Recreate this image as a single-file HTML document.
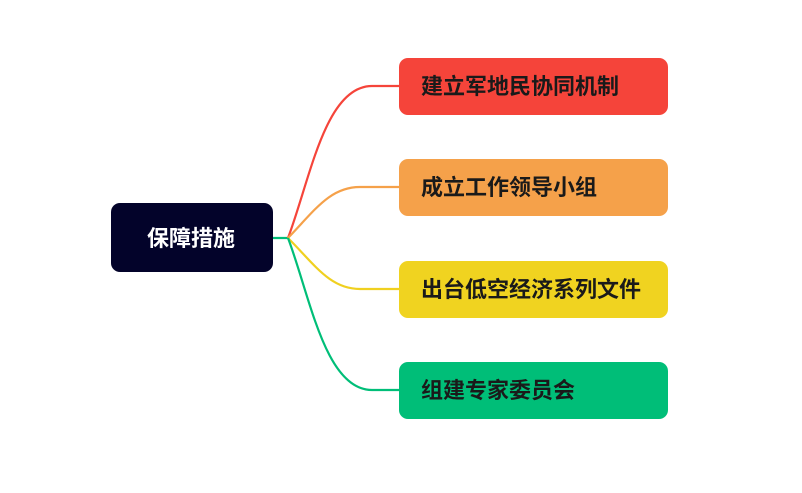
<!DOCTYPE html>
<html><head><meta charset="utf-8"><style>
body{margin:0;width:802px;height:493px;background:#fff;position:relative;overflow:hidden;font-family:"Liberation Sans","Noto Sans CJK SC",sans-serif;}
.n{position:absolute;border-radius:9px;font-weight:bold;font-size:22px;line-height:57px;color:#1a1a1a;box-sizing:border-box;padding-left:22px;}
</style></head><body>
<svg width="802" height="493" style="position:absolute;left:0;top:0" fill="none" stroke-width="2.2">
<path d="M270 238 H288" stroke="#00be78"/>
<path d="M288 238 C310 180,325 86,372 86 H400" stroke="#f5443a"/>
<path d="M288 238 C315 210,330 187,360 187 H400" stroke="#f5a14a"/>
<path d="M288 238 C315 265,330 289,360 289 H400" stroke="#f0d020"/>
<path d="M288 238 C310 296,325 390,372 390 H400" stroke="#00be78"/>
</svg>
<div class="n" style="left:111px;top:203px;width:162px;height:69px;background:#03032a;color:#fff;line-height:71px;padding-left:36px;">保障措施</div>
<div class="n" style="left:399px;top:58px;width:269px;height:57px;background:#f5443a;">建立军地民协同机制</div>
<div class="n" style="left:399px;top:159px;width:269px;height:57px;background:#f5a14a;">成立工作领导小组</div>
<div class="n" style="left:399px;top:261px;width:269px;height:57px;background:#f0d320;">出台低空经济系列文件</div>
<div class="n" style="left:399px;top:362px;width:269px;height:57px;background:#00be78;">组建专家委员会</div>
</body></html>
